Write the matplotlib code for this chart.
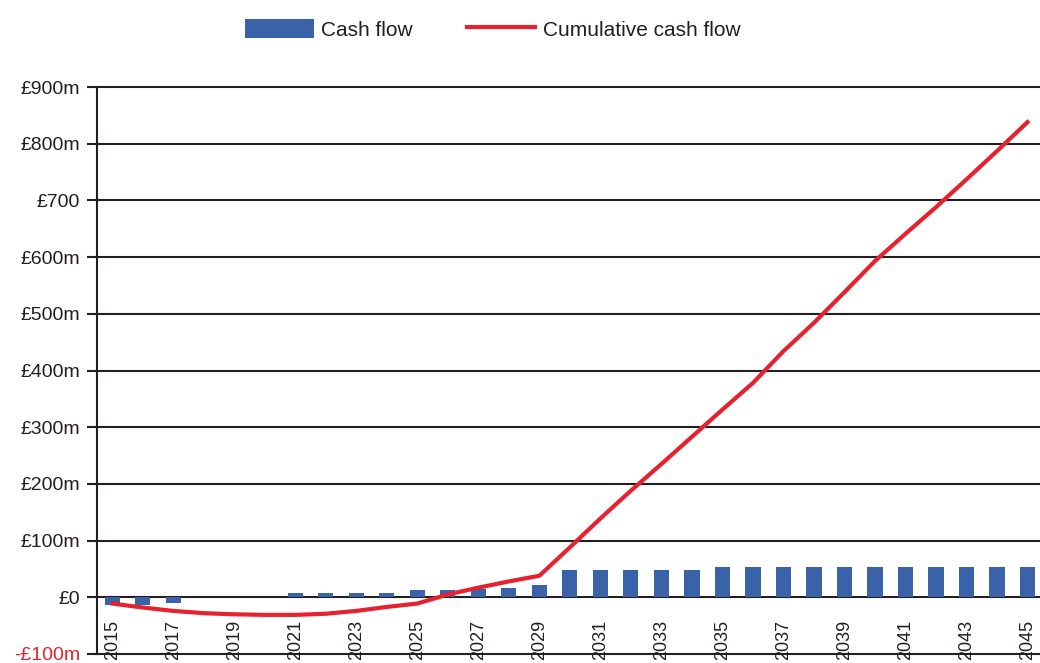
import numpy as np
import matplotlib.pyplot as plt

# Datos (millones de libras)
years = list(range(2015, 2046))
cash_flow = [-13, -13, -10, 0, 0, 0, 8, 8, 8, 8, 12, 12, 15, 16, 21,
             49, 49, 49, 49, 49, 54, 54, 54, 54, 54, 54, 54, 54, 54, 54, 54]
cumulative = [-11, -18, -24, -28, -30, -31, -31, -29, -24, -17, -11, 5, 17, 28, 38,
              88, 139, 188, 235, 283, 331, 378, 434, 484, 538, 593, 641, 688, 737, 787, 838]
y_ticks = [-100, 0, 100, 200, 300, 400, 500, 600, 700, 800, 900]
y_labels = ['-£100m', '£0', '£100m', '£200m', '£300m', '£400m', '£500m',
            '£600m', '£700', '£800m', '£900m']

blue = '#3A62A8'
red = '#E8212E'
grid_col = '#231F20'
fuente = ['Liberation Sans', 'DejaVu Sans']

fig = plt.figure(figsize=(10.4, 6.63), dpi=100)
ax = fig.add_axes([97 / 1040, 9 / 663, 945.7 / 1040, 567 / 663])

x = np.arange(len(years))
barras = ax.bar(x, cash_flow, width=0.5, color=blue, zorder=2, label='Cash flow')
linea, = ax.plot(x, cumulative, color=red, linewidth=3, zorder=3, label='Cumulative cash flow')

ax.set_xlim(-0.5, len(years) - 0.5)
ax.set_ylim(-100, 900)

ax.set_yticks(y_ticks)
ax.set_yticklabels(y_labels, fontsize=14, family=fuente)
ax.tick_params(axis='y', length=7, width=1.5, pad=5, colors=grid_col)
ax.get_yticklabels()[0].set_color(red)

# Etiquetas de años debajo de la línea del cero
ax.spines['bottom'].set_position(('data', 0))
ax.spines['bottom'].set_visible(False)
ax.set_xticks(x[::2])
ax.set_xticklabels([str(y) for y in years[::2]], rotation=90, fontsize=13,
                   family=fuente, va='top')
ax.tick_params(axis='x', length=0, pad=16, colors=grid_col)

ax.spines['top'].set_visible(False)
ax.spines['right'].set_visible(False)
ax.spines['left'].set_linewidth(1.5)
ax.spines['left'].set_color(grid_col)

ax.grid(axis='y', color=grid_col, linewidth=1.5)
ax.set_axisbelow(True)
for gl in ax.get_ygridlines():
    gl.set_clip_on(False)

fig.legend(handles=[barras, linea], loc='upper left', bbox_to_anchor=(226 / 1040, 1.0),
           ncol=2, frameon=False, prop={'family': fuente, 'size': 15},
           handlelength=3.3, handleheight=1.05, handletextpad=0.35, columnspacing=2.6,
           labelcolor=grid_col)

fig.savefig('out.png', dpi=100)
